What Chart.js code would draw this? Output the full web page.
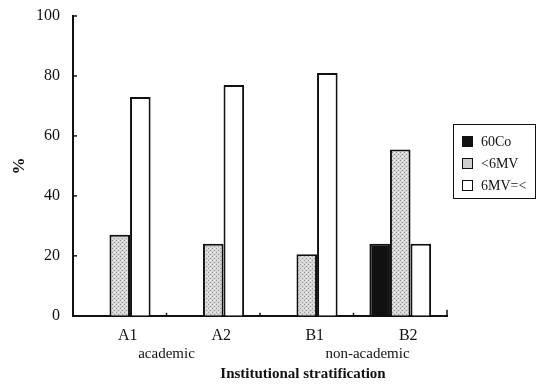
<!DOCTYPE html>
<html>
<head>
<meta charset="utf-8">
<script src="https://cdn.jsdelivr.net/npm/chart.js@4"></script>
<style>
  html, body { margin: 0; padding: 0; background: #fff; }
  #wrap { position: relative; width: 542px; height: 390px; }
  #legend {
    position: absolute; left: 453px; top: 124px; width: 83px; height: 75px;
    border: 1.5px solid #111; box-sizing: border-box; padding: 6px 0 0 8px;
    font-family: "Liberation Serif", "DejaVu Serif", serif; font-size: 14px; color: #111;
  }
  #legend div { height: 22px; line-height: 22px; white-space: nowrap; }
  #legend span.sw {
    display: inline-block; width: 9px; height: 9px; border: 1.5px solid #111;
    margin-right: 8px; vertical-align: -1px;
  }
</style>
</head>
<body>
<div id="wrap">
  <canvas id="chart" width="542" height="390"></canvas>
  <div id="legend"></div>
</div>
<script>
const categories = ['A1', 'A2', 'B1', 'B2'];
const groupLabels = ['academic', 'non-academic'];
const xTitle = 'Institutional stratification';
const seriesNames = ['60Co', '<6MV', '6MV=<'];
const co60 = [null, null, null, 24];
const below6MV = [27, 24, 20.5, 55.5];
const above6MV = [73, 77, 81, 24];
const yTicks = [0, 20, 40, 60, 80, 100];

const serif = '"Liberation Serif", "DejaVu Serif", serif';

// stippled grey fill like the scanned original
function stipple() {
  const c = document.createElement('canvas');
  c.width = 4; c.height = 4;
  const g = c.getContext('2d');
  g.fillStyle = '#d6d6d6';
  g.fillRect(0, 0, 4, 4);
  g.fillStyle = '#9a9a9a';
  g.fillRect(0, 0, 1, 1);
  g.fillRect(2, 2, 1, 1);
  g.fillStyle = '#eeeeee';
  g.fillRect(2, 0, 1, 1);
  return g.createPattern(c, 'repeat');
}
const grey = stipple();
const fills = ['#111', grey, '#fff'];

// inward tick marks, group labels and the axis title
const extras = {
  id: 'extras',
  afterDraw(chart) {
    const ctx = chart.ctx;
    const x = chart.scales.x, y = chart.scales.y;
    const { left, right, bottom } = chart.chartArea;
    ctx.save();
    ctx.strokeStyle = '#111';
    ctx.lineWidth = 1.5;
    yTicks.forEach(v => {
      const py = y.getPixelForValue(v);
      ctx.beginPath(); ctx.moveTo(left, py); ctx.lineTo(left + 4, py); ctx.stroke();
    });
    for (let i = 1; i <= categories.length; i++) {
      const px = (x.getPixelForValue(i - 1) + x.getPixelForValue(i)) / 2;
      const h = i === categories.length ? 6 : 3;
      ctx.beginPath(); ctx.moveTo(px, bottom); ctx.lineTo(px, bottom - h); ctx.stroke();
    }
    ctx.fillStyle = '#111';
    ctx.font = '15px ' + serif;
    ctx.textAlign = 'center';
    ctx.textBaseline = 'middle';
    const g1 = (x.getPixelForValue(0) + x.getPixelForValue(1)) / 2;
    const g2 = (x.getPixelForValue(2) + x.getPixelForValue(3)) / 2 + 14;
    ctx.fillText(groupLabels[0], g1, 354);
    ctx.fillText(groupLabels[1], g2, 354);
    ctx.font = 'bold 15px ' + serif;
    ctx.fillText(xTitle, (left + right) / 2 + 43, 374);
    ctx.restore();
  }
};

new Chart(document.getElementById('chart'), {
  type: 'bar',
  data: {
    labels: categories,
    datasets: [co60, below6MV, above6MV].map((d, i) => ({
      label: seriesNames[i],
      data: d,
      backgroundColor: fills[i],
      borderColor: '#111',
      borderWidth: 2,
      categoryPercentage: 0.66,
      barPercentage: 1.0
    }))
  },
  options: {
    responsive: false,
    animation: false,
    layout: { padding: { left: 11, right: 95, top: 16, bottom: 43 } },
    plugins: { legend: { display: false }, tooltip: { enabled: false } },
    scales: {
      x: {
        grid: { display: false },
        border: { color: '#111', width: 2 },
        ticks: { color: '#111', font: { family: serif, size: 16 }, padding: 2, labelOffset: 8 }
      },
      y: {
        min: 0, max: 100,
        afterBuildTicks: s => { s.ticks = yTicks.map(v => ({ value: v })); },
        grid: { display: false },
        border: { color: '#111', width: 2 },
        ticks: { color: '#111', font: { family: serif, size: 16 }, padding: 5 },
        title: {
          display: true, text: '%', color: '#111',
          font: { family: serif, size: 17, weight: 'bold', lineHeight: 1 }, padding: { top: 0, bottom: 3 }
        }
      }
    }
  },
  plugins: [extras]
});

const legend = document.getElementById('legend');
seriesNames.forEach((n, i) => {
  const row = document.createElement('div');
  const sw = document.createElement('span');
  sw.className = 'sw';
  sw.style.background = i === 0 ? '#111' : (i === 1 ? '#cfcfcf' : '#fff');
  row.appendChild(sw);
  row.appendChild(document.createTextNode(n));
  legend.appendChild(row);
});
</script>
</body>
</html>
